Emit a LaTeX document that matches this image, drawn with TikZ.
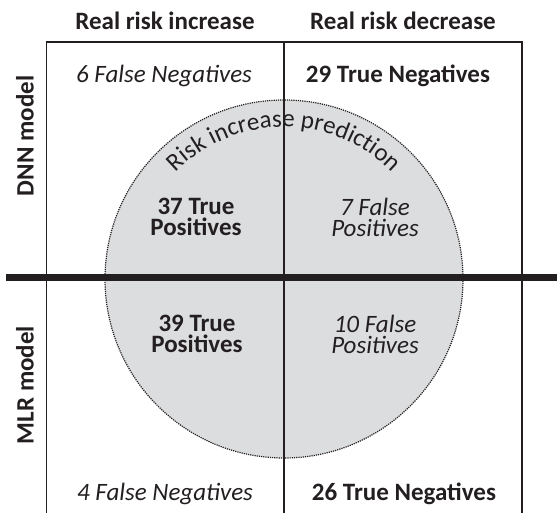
\documentclass[tikz,border=0pt]{standalone}
\usepackage{fontspec}
\setmainfont{Carlito}
\usetikzlibrary{decorations.text}
\definecolor{predgray}{RGB}{220,221,223}
\definecolor{inkblack}{RGB}{35,31,32}

\begin{document}
\begin{tikzpicture}[x=1pt, y=1pt,
  cell/.style={text=inkblack, align=center, inner sep=0pt},
  hit/.style={cell, font=\fontsize{25}{21}\selectfont\bfseries},
  miss/.style={cell, font=\fontsize{25}{21}\selectfont\itshape}]
\useasboundingbox (0,0) rectangle (557,513);

% Prediction circle
\fill[predgray] (284,234) circle (179);
\draw[inkblack, line width=1.2pt, densely dotted] (284,234) circle (179);
\path[decorate, decoration={text along path, text align=center,
  text={|\fontsize{25}{21}\selectfont\color{inkblack}|Risk increase prediction}}]
  (284,234) ++(160:152) arc[start angle=160, end angle=20, radius=152];

% Grid
\draw[inkblack, line width=1.6pt] (46.5,0) |- (522,471) -- (522,0);
\draw[inkblack, line width=1.6pt] (284,471) -- (284,0);
\draw[inkblack, line width=7pt] (6,235) -- (557,235);

% Column and row headers
\node[hit] (incr) at (165,492) {Real risk increase};
\node[hit] (decr) at (403,492) {Real risk decrease};
\node[hit, rotate=90] (dnn) at (25,377) {DNN model};
\node[hit, rotate=90] (mlr) at (25,128) {MLR model};

% Counts
\node[miss] (fn1) at (164,437) {6 False Negatives};
\node[hit] (tn1) at (398,437) {29 True Negatives};
\node[hit] (tp1) at (196,296) {37 True\\Positives};
\node[miss] (fp1) at (375,296) {7 False\\Positives};
\node[hit] (tp2) at (197,179) {39 True\\Positives};
\node[miss] (fp2) at (375,179) {10 False\\Positives};
\node[miss] (fn2) at (165,19) {4 False Negatives};
\node[hit] (tn2) at (404,19) {26 True Negatives};
\end{tikzpicture}
\end{document}
